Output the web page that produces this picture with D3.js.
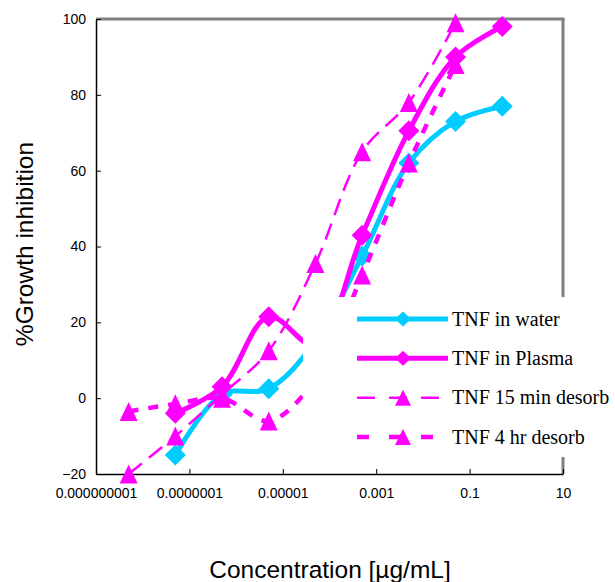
<!DOCTYPE html>
<html>
<head>
<meta charset="utf-8">
<script src="https://cdn.jsdelivr.net/npm/d3@7"></script>
<style>
  body { margin: 0; background: #fff; }
  svg { display: block; }
</style>
</head>
<body>
<div id="chart"></div>
<script>
const width = 615
const height = 582
const margin = { top: 19, right: 52, bottom: 108, left: 96 }

// concentrations (ug/mL)
const conc = [5e-9, 5e-8, 5e-7, 5e-6, 5e-5, 5e-4, 5e-3, 5e-2, 0.5]

// % growth inhibition, null = no point
const water = [null, -15, 1, 2.5, 15, 37.5, 62, 73, 77]
const plasma = [null, -4, 3, 21.5, 14, 43, 70.5, 90, 98]
const desorb15 = [-20, -10, 1, 12.5, 35.5, 65, 78, 99, null]
const desorb4 = [-3.5, -1.5, 0, -6, 5, 32.5, 62, 88, null]

const seriesNames = ["TNF in water", "TNF in Plasma", "TNF 15 min desorb", "TNF 4 hr desorb"]

const xTicks = [1e-9, 1e-7, 1e-5, 1e-3, 0.1, 10]
const xTickLabels = ["0.000000001", "0.0000001", "0.00001", "0.001", "0.1", "10"]
const yTicks = [-20, 0, 20, 40, 60, 80, 100]

const series = [
    { name: seriesNames[0], values: water, color: "#00CCFF", width: 5, dash: null, legDash: null, marker: "diamond" },
    { name: seriesNames[1], values: plasma, color: "#FF00FF", width: 5, dash: null, legDash: null, marker: "diamond" },
    { name: seriesNames[2], values: desorb15, color: "#FF00FF", width: 2.5, dash: "17,9", legDash: "18,14", marker: "triangle" },
    { name: seriesNames[3], values: desorb4, color: "#FF00FF", width: 4.5, dash: "10,10", legDash: "12,20", marker: "triangle" }
]

const x = d3.scaleLog()
    .domain([1e-9, 10])
    .range([margin.left, width - margin.right])

const y = d3.scaleLinear()
    .domain([-20, 100])
    .range([height - margin.bottom, margin.top])

const svg = d3.select("#chart")
    .append("svg")
    .attr("width", width)
    .attr("height", height)

// plot frame: gray top/right, black axes
svg.append("line")
    .attr("x1", x(1e-9)).attr("x2", x(10) + 1.5)
    .attr("y1", y(100)).attr("y2", y(100))
    .attr("stroke", "#808080").attr("stroke-width", 3)
svg.append("line")
    .attr("x1", x(10)).attr("x2", x(10))
    .attr("y1", y(100)).attr("y2", y(-20))
    .attr("stroke", "#808080").attr("stroke-width", 3)

const xAxis = d3.axisBottom(x)
    .tickValues(xTicks)
    .tickSize(-5)
    .tickSizeOuter(0)
    .tickFormat((d, i) => xTickLabels[i])

const yAxis = d3.axisLeft(y)
    .tickValues(yTicks)
    .tickSize(-5)
    .tickSizeOuter(0)

const gx = svg.append("g")
    .attr("transform", `translate(0,${y(-20)})`)
    .call(xAxis)
gx.select(".domain").attr("stroke", "#000").attr("stroke-width", 1.5)
gx.selectAll(".tick line").attr("stroke", "#000")
gx.selectAll(".tick text")
    .attr("dy", "1.5em")
    .attr("font-family", "Liberation Sans, Arial, sans-serif")
    .attr("font-size", 14)
    .attr("fill", "#000")

const gy = svg.append("g")
    .attr("transform", `translate(${x(1e-9)},0)`)
    .call(yAxis)
gy.select(".domain").attr("stroke", "#000").attr("stroke-width", 1.5)
gy.selectAll(".tick line").attr("stroke", "#000")
gy.selectAll(".tick text")
    .attr("x", -10)
    .attr("font-family", "Liberation Sans, Arial, sans-serif")
    .attr("font-size", 14)
    .attr("fill", "#000")

// axis titles
svg.append("text")
    .attr("transform", `translate(33,244) rotate(-90)`)
    .attr("text-anchor", "middle")
    .attr("font-family", "Liberation Sans, Arial, sans-serif")
    .attr("font-size", 24.5)
    .text("%Growth inhibition")

svg.append("text")
    .attr("x", 330)
    .attr("y", 578)
    .attr("text-anchor", "middle")
    .attr("font-family", "Liberation Sans, Arial, sans-serif")
    .attr("font-size", 24.5)
    .text("Concentration [µg/mL]")

// markers: w = full width, h = full height
function markerPath(type, w, h) {
    const p = d3.path()
    if (type === "diamond") {
        p.moveTo(0, -h / 2); p.lineTo(w / 2, 0); p.lineTo(0, h / 2); p.lineTo(-w / 2, 0)
    } else {
        p.moveTo(0, -h / 2); p.lineTo(w / 2, h / 2); p.lineTo(-w / 2, h / 2)
    }
    p.closePath()
    return p.toString()
}

const line = d3.line()
    .defined(d => d.v !== null)
    .x(d => x(d.c))
    .y(d => y(d.v))
    .curve(d3.curveCatmullRom)

const gSeries = svg.append("g")
series.forEach(s => {
    const pts = conc.map((c, i) => ({ c: c, v: s.values[i] })).filter(d => d.v !== null)
    const g = gSeries.append("g")
    g.append("path")
        .datum(pts)
        .attr("d", line)
        .attr("fill", "none")
        .attr("stroke", s.color)
        .attr("stroke-width", s.width)
        .attr("stroke-dasharray", s.dash)
        .attr("stroke-linejoin", "round")
    g.selectAll(".pt")
        .data(pts)
        .join("path")
        .attr("transform", d => `translate(${x(d.c)},${y(d.v)})`)
        .attr("d", s.marker === "diamond" ? markerPath("diamond", 21, 21) : markerPath("triangle", 18, 19))
        .attr("fill", s.color)
})

// legend (white box covers the plot)
const legend = svg.append("g")
legend.append("rect")
    .attr("x", 303).attr("y", 297)
    .attr("width", 312).attr("height", 160)
    .attr("fill", "#fff")

const rowY = d3.scalePoint()
    .domain(seriesNames)
    .range([319, 437])

series.forEach(s => {
    const ry = rowY(s.name)
    legend.append("line")
        .attr("x1", 357).attr("x2", 448)
        .attr("y1", ry).attr("y2", ry)
        .attr("stroke", s.color)
        .attr("stroke-width", s.width)
        .attr("stroke-dasharray", s.legDash)
    legend.append("path")
        .attr("transform", `translate(403,${ry})`)
        .attr("d", s.marker === "diamond" ? markerPath("diamond", 16, 15) : markerPath("triangle", 16, 16))
        .attr("fill", s.color)
    legend.append("text")
        .attr("x", 452)
        .attr("y", ry)
        .attr("dy", "0.33em")
        .attr("font-family", "Liberation Serif, Times New Roman, serif")
        .attr("font-size", 20)
        .text(s.name)
})
</script>
</body>
</html>
